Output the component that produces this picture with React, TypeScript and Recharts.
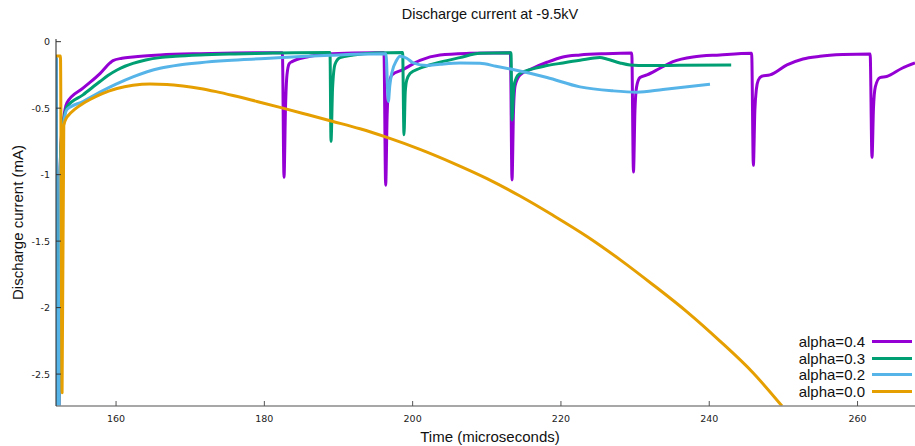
import { LineChart, Line, XAxis, YAxis, Legend } from "recharts";

// time (microseconds), discharge current (mA)
const alpha04 = [
  [151.9, -0.12], [152.02, -3.2], [152.25, -3.2], [152.45, -1.0], [152.62, -0.72], [152.84, -0.61],
  [153.38, -0.46], [155.54, -0.35], [157.83, -0.24], [159.18, -0.16], [159.59, -0.142], [160.8, -0.125],
  [162.28, -0.115], [165.93, -0.1], [171.32, -0.09], [176.0, -0.085], [182.43, -0.083],
  [182.65, -1.02], [182.85, -0.5], [183.05, -0.25], [183.36, -0.165], [183.73, -0.15], [185.75, -0.115],
  [188.5, -0.093], [192.0, -0.085], [196.13, -0.083],
  [196.36, -1.08], [196.56, -0.55], [196.8, -0.33], [197.21, -0.25], [198.7, -0.21], [200.99, -0.14],
  [203.69, -0.1], [207.73, -0.088], [213.18, -0.083],
  [213.4, -1.04], [213.6, -0.52], [213.82, -0.33], [214.48, -0.25], [215.82, -0.21], [218.12, -0.155],
  [220.27, -0.115], [222.57, -0.1], [226.0, -0.09], [229.55, -0.085],
  [229.78, -0.98], [229.98, -0.52], [230.2, -0.34], [230.66, -0.27], [231.6, -0.25], [233.35, -0.2],
  [235.11, -0.15], [237.81, -0.115], [241.45, -0.1], [245.72, -0.088],
  [245.95, -0.93], [246.15, -0.52], [246.35, -0.36], [246.61, -0.29], [247.07, -0.26], [248.19, -0.25],
  [250.48, -0.175], [252.64, -0.13], [254.93, -0.11], [258.0, -0.097], [261.7, -0.092],
  [261.95, -0.87], [262.15, -0.5], [262.4, -0.34], [263.02, -0.27], [263.92, -0.262], [266.0, -0.2],
  [267.75, -0.16],
];

const alpha03 = [
  [151.9, -0.12], [152.02, -3.2], [152.25, -3.2], [152.45, -1.0], [152.62, -0.74], [152.84, -0.63],
  [153.38, -0.49], [155.54, -0.4], [157.83, -0.3], [158.9, -0.255], [160.13, -0.213], [161.2, -0.185],
  [162.28, -0.163], [164.0, -0.138], [165.93, -0.12], [168.0, -0.11], [171.32, -0.1], [176.0, -0.092],
  [180.09, -0.087], [184.0, -0.083], [188.85, -0.082],
  [188.99, -0.75], [189.2, -0.35], [189.53, -0.17], [190.2, -0.12], [192.0, -0.1], [195.0, -0.085],
  [198.65, -0.082],
  [198.83, -0.7], [199.0, -0.38], [199.2, -0.29], [199.64, -0.24], [200.99, -0.2], [203.69, -0.155],
  [206.38, -0.12], [209.08, -0.088], [213.26, -0.083],
  [213.4, -0.59], [213.65, -0.34], [214.0, -0.27], [214.48, -0.24], [215.82, -0.21], [218.12, -0.18],
  [220.27, -0.16], [222.57, -0.14], [225.26, -0.12], [226.17, -0.13], [227.96, -0.16], [229.31, -0.175],
  [231.6, -0.18], [236.0, -0.178], [242.96, -0.175],
];

const alpha02 = [
  [151.9, -0.12], [152.02, -3.2], [152.25, -3.2], [152.45, -1.05], [152.62, -0.77], [152.84, -0.65],
  [153.38, -0.51], [155.54, -0.45], [157.83, -0.38], [160.0, -0.32], [162.28, -0.265], [165.93, -0.2],
  [168.5, -0.175], [171.32, -0.158], [175.0, -0.142], [180.09, -0.127], [185.0, -0.112], [188.85, -0.103],
  [192.0, -0.095], [196.4, -0.09],
  [196.72, -0.45], [196.92, -0.33], [197.17, -0.24], [197.84, -0.14], [198.29, -0.11], [199.2, -0.125],
  [200.09, -0.16], [201.89, -0.18], [203.69, -0.17], [206.38, -0.16], [209.08, -0.163], [211.24, -0.185],
  [213.53, -0.21], [218.12, -0.27], [222.57, -0.34], [227.02, -0.37], [230.25, -0.38], [233.76, -0.36],
  [240.1, -0.32],
];

const alpha00 = [
  [151.9, -0.107], [152.5, -0.107], [152.72, -2.64], [152.95, -0.63], [153.3, -0.575], [153.56, -0.555],
  [154.5, -0.505], [155.54, -0.465], [156.49, -0.435], [157.83, -0.398], [159.0, -0.372], [160.13, -0.352],
  [162.28, -0.328], [164.58, -0.318], [166.87, -0.322], [169.03, -0.334], [171.32, -0.352], [173.5, -0.376],
  [175.77, -0.405], [179.0, -0.45], [182.51, -0.5], [185.9, -0.55], [189.26, -0.6], [192.9, -0.655],
  [196.54, -0.72], [200.99, -0.81], [205.44, -0.913], [210.03, -1.03], [214.48, -1.161], [218.93, -1.306],
  [223.51, -1.465], [227.96, -1.639], [232.41, -1.828], [237.0, -2.032], [241.45, -2.252], [245.9, -2.49],
  [249.81, -2.74],
];

const X_TICKS = [160, 180, 200, 220, 240, 260];
const Y_TICKS = [0, -0.5, -1, -1.5, -2, -2.5];
const X_DOMAIN = [151.9, 267.75];
const Y_DOMAIN = [-2.74, 0.02];

const series = [
  { name: "alpha=0.4", color: "#9400d3", points: alpha04 },
  { name: "alpha=0.3", color: "#009e73", points: alpha03 },
  { name: "alpha=0.2", color: "#56b4e9", points: alpha02 },
  { name: "alpha=0.0", color: "#e69f00", points: alpha00 },
];

const SANS = "'Liberation Sans', Arial, sans-serif";
const TICK_FONT = "'DejaVu Sans', sans-serif";

function BottomTick({ x, y, payload }: any) {
  return (
    <g>
      <line x1={x} x2={x} y1={y} y2={y - 5} stroke="#555" />
      <text x={x} y={y + 12} textAnchor="middle" dominantBaseline="central" fontSize={9.5} fontFamily={TICK_FONT} fill="#222">
        {payload.value}
      </text>
    </g>
  );
}

function LeftTick({ x, y, payload }: any) {
  return (
    <g>
      <line x1={x} x2={x + 5} y1={y} y2={y} stroke="#333" />
      <text x={x - 6} y={y} textAnchor="end" dominantBaseline="central" fontSize={9.5} fontFamily={TICK_FONT} fill="#222">
        {payload.value}
      </text>
    </g>
  );
}

function renderLegend() {
  return (
    <div style={{ fontFamily: SANS, fontSize: 15, color: "#111" }}>
      {series.map((s) => (
        <div key={s.name} style={{ display: "flex", alignItems: "center", justifyContent: "flex-end", height: 16.7 }}>
          <span>{s.name}</span>
          <span style={{ display: "inline-block", width: 40, height: 3, background: s.color, marginLeft: 7 }} />
        </div>
      ))}
    </div>
  );
}

export default function App() {
  return (
    <div style={{ position: "absolute", left: 0, top: 0, width: 915, height: 446, background: "#fff", overflow: "hidden" }}>
      <div
        style={{
          position: "absolute", left: 340, top: 6, width: 300, textAlign: "center",
          fontFamily: SANS, fontSize: 14.5, lineHeight: "17px", color: "#111", zIndex: 2,
        }}
      >
        Discharge current at -9.5kV
      </div>
      <LineChart width={915} height={446} margin={{ top: 39, right: 0, bottom: 0, left: 0 }}>
        <XAxis
          xAxisId="top" orientation="top" mirror type="number" dataKey="t" domain={X_DOMAIN}
          ticks={X_TICKS} tick={false} tickSize={5} height={0} stroke="#444" allowDataOverflow
        />
        <XAxis
          xAxisId="bottom" type="number" dataKey="t" domain={X_DOMAIN} ticks={X_TICKS} allowDataOverflow
          height={40} tickSize={0} tickMargin={0} tickLine={false} tick={<BottomTick />}
          axisLine={{ stroke: "#8a8a8a", strokeWidth: 1.3 }}
          label={({ viewBox }: any) => (
            <text
              x={viewBox.x + viewBox.width / 2 + 4.5} y={viewBox.y + 30} textAnchor="middle"
              dominantBaseline="central" fontFamily={SANS} fontSize={15} fill="#111"
            >
              Time (microseconds)
            </text>
          )}
        />
        <YAxis
          type="number" domain={Y_DOMAIN} ticks={Y_TICKS} allowDataOverflow width={56}
          tickSize={0} tickMargin={0} tickLine={false} tick={<LeftTick />}
          axisLine={{ stroke: "#222", strokeWidth: 1 }}
          label={({ viewBox }: any) => {
            const cx = viewBox.x + 17;
            const cy = viewBox.y + viewBox.height / 2;
            return (
              <text
                x={cx} y={cy} transform={`rotate(-90 ${cx} ${cy})`} textAnchor="middle"
                dominantBaseline="central" fontFamily={SANS} fontSize={15} fill="#111"
              >
                Discharge current (mA)
              </text>
            );
          }}
        />
        {series.map((s) => (
          <Line
            key={s.name}
            xAxisId="bottom"
            data={s.points.map(([t, i]) => ({ t, i }))}
            dataKey="i"
            name={s.name}
            type="monotone"
            stroke={s.color}
            strokeWidth={3}
            strokeLinejoin="round"
            dot={false}
            activeDot={false}
            isAnimationActive={false}
          />
        ))}
        <Legend
          layout="horizontal" verticalAlign="middle" align="center"
          wrapperStyle={{ left: 752, top: 333, width: 160, height: 68 }}
          content={renderLegend}
        />
      </LineChart>
    </div>
  );
}
